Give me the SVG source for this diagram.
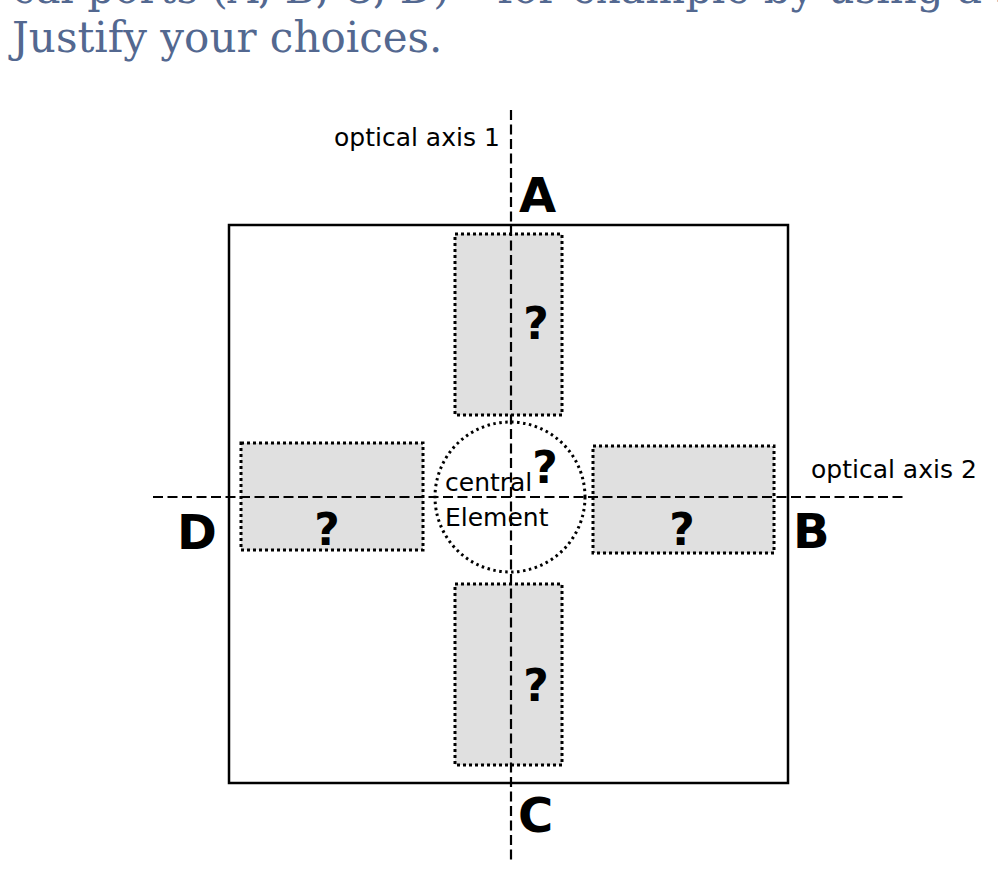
<svg xmlns="http://www.w3.org/2000/svg" width="998" height="882" viewBox="0 0 998 882">
<style>
.q{font-family:"DejaVu Serif","Liberation Serif",serif;font-size:42px;fill:#536890}
.lab{font-family:"DejaVu Sans","Liberation Sans",sans-serif;font-size:25px;fill:#000}
.big{font-family:"DejaVu Sans","Liberation Sans",sans-serif;font-size:48px;font-weight:bold;fill:#000}
.qm{font-family:"DejaVu Sans","Liberation Sans",sans-serif;font-size:44px;font-weight:bold;fill:#000;text-anchor:middle}
.el{fill:#e0e0e0;stroke:#000;stroke-width:3;stroke-dasharray:3 3}
.axis{stroke:#000;stroke-width:2.2;stroke-dasharray:10 4.5;fill:none}
</style>
<rect width="998" height="882" fill="#fff"/>
<text class="q" x="12" y="3">cal ports (A, B, C, D) – for example by using a sh</text>
<text class="q" x="12" y="52">Justify your choices.</text>
<g id="frame"><rect x="229" y="225" width="559" height="558" fill="none" stroke="#000" stroke-width="2.5"/></g>
<g id="top-element"><rect class="el" x="455" y="234" width="107" height="181"/><text class="qm" x="536" y="339">?</text></g>
<g id="bottom-element"><rect class="el" x="455" y="584" width="107" height="181"/><text class="qm" x="536" y="701">?</text></g>
<g id="left-element"><rect class="el" x="241" y="443" width="182" height="107"/><text class="qm" x="327" y="545">?</text></g>
<g id="right-element"><rect class="el" x="593" y="446" width="181" height="107"/><text class="qm" x="682" y="545">?</text></g>
<g id="central-element"><circle cx="510" cy="497" r="75" fill="#fff" stroke="#000" stroke-width="3" stroke-dasharray="2.5 3.5"/>
<text class="lab" x="445" y="491">central</text><text class="lab" x="445" y="526">Element</text><text class="qm" x="545" y="483">?</text></g>
<g id="connectors">
<line class="axis" x1="511" y1="110" x2="511" y2="860"/>
<line class="axis" x1="153" y1="497" x2="905" y2="497"/>
</g>
<g id="labels">
<text class="lab" x="334" y="146">optical axis 1</text>
<text class="lab" x="811" y="478">optical axis 2</text>
<text class="big" x="519" y="212">A</text>
<text class="big" x="793" y="548">B</text>
<text class="big" x="518" y="832">C</text>
<text class="big" x="177" y="549">D</text>
</g>
</svg>
